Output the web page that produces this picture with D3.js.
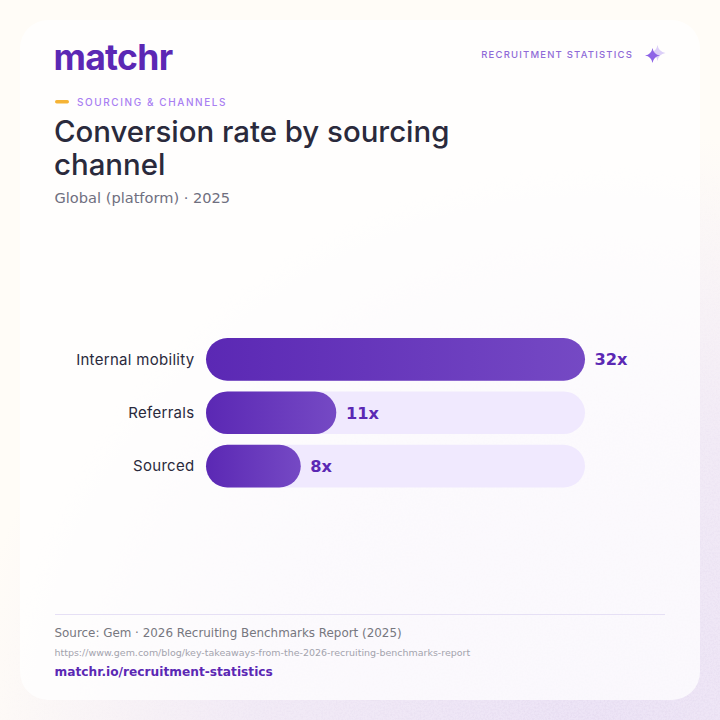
<!DOCTYPE html>
<html>
<head>
<meta charset="utf-8">
<script src="https://cdn.jsdelivr.net/npm/d3@7"></script>
<style>
html,body{margin:0;padding:0;background:#fff;}
svg{display:block;}
</style>
</head>
<body>
<div id="chart"></div>
<script>
const categories = ["Internal mobility", "Referrals", "Sourced"];
const values = [32, 11, 8];
const valueLabels = ["32x", "11x", "8x"];
const domainMax = 32;

const W = 720, H = 720;
const svg = d3.select("#chart").append("svg").attr("width", W).attr("height", H);
const defs = svg.append("defs");

// Page wash: warm cream everywhere, with a lavender glow rising from the lower right
const pageGlow = defs.append("radialGradient").attr("id", "glow")
  .attr("gradientUnits", "userSpaceOnUse")
  .attr("cx", 600).attr("cy", 770).attr("r", 640);
pageGlow.append("stop").attr("offset", "0%").attr("stop-color", "#ece3f6");
pageGlow.append("stop").attr("offset", "55%").attr("stop-color", "#f2ebf6");
pageGlow.append("stop").attr("offset", "100%").attr("stop-color", "#fffcf7");

// Fine paper texture, strongest where the glow is
const grain = defs.append("filter").attr("id", "grain")
  .attr("x", 0).attr("y", 0).attr("width", 1).attr("height", 1);
grain.append("feTurbulence").attr("type", "fractalNoise")
  .attr("baseFrequency", 0.55).attr("numOctaves", 2).attr("seed", 7);
grain.append("feColorMatrix").attr("type", "matrix")
  .attr("values", "0 0 0 0 0.45  0 0 0 0 0.35  0 0 0 0 0.6  0 0 0 1.6 -0.62");
const grainFade = defs.append("radialGradient").attr("id", "grainFade")
  .attr("gradientUnits", "userSpaceOnUse")
  .attr("cx", 600).attr("cy", 770).attr("r", 620);
grainFade.append("stop").attr("offset", "0%").attr("stop-color", "#fff").attr("stop-opacity", 1);
grainFade.append("stop").attr("offset", "100%").attr("stop-color", "#fff").attr("stop-opacity", 0);
defs.append("mask").attr("id", "grainMask").append("rect")
  .attr("width", W).attr("height", H).attr("fill", "url(#grainFade)");

const barGrad = defs.append("linearGradient").attr("id", "bar")
  .attr("x1", 0).attr("y1", 0).attr("x2", 1).attr("y2", 0);
barGrad.append("stop").attr("offset", "0%").attr("stop-color", "#5b28b4");
barGrad.append("stop").attr("offset", "100%").attr("stop-color", "#7549c4");

svg.append("rect").attr("width", W).attr("height", H).attr("fill", "url(#glow)");
svg.append("g").attr("mask", "url(#grainMask)").append("rect")
  .attr("width", W).attr("height", H).attr("filter", "url(#grain)").attr("opacity", 0.16);
svg.append("rect").attr("x", 20).attr("y", 20).attr("width", 680).attr("height", 680)
  .attr("rx", 28).attr("fill", "#ffffff").attr("fill-opacity", 0.74);

const HEAD = "Inter, 'Noto Sans', sans-serif";
const BODY = "'DejaVu Sans', sans-serif";

function label(x, y, str, size, fill, opts = {}) {
  return svg.append("text").attr("x", x).attr("y", y).text(str)
    .attr("font-family", opts.family || BODY)
    .attr("font-size", size)
    .attr("font-weight", opts.weight || 400)
    .attr("letter-spacing", opts.spacing || 0)
    .attr("text-anchor", opts.anchor || "start")
    .attr("fill", fill);
}

// Header
label(53.5, 70, "matchr", 35.5, "#5b28b4", {family: HEAD, weight: 700, spacing: -0.7});
label(633, 57.5, "RECRUITMENT STATISTICS", 9.5, "#8f6bd8", {family: HEAD, weight: 500, spacing: 1.2, anchor: "end"});

// Pair of four-point sparkles beside the header tag
const sparkle = (cx, cy, r) => {
  const k = r * 0.14;
  return `M${cx},${cy - r}Q${cx + k},${cy - k} ${cx + r},${cy}Q${cx + k},${cy + k} ${cx},${cy + r}Q${cx - k},${cy + k} ${cx - r},${cy}Q${cx - k},${cy - k} ${cx},${cy - r}Z`;
};
svg.append("path").attr("d", sparkle(657.5, 53, 8)).attr("fill", "#dccff8");
svg.append("path").attr("d", sparkle(652.5, 55.5, 7.5)).attr("fill", "#8d63e6");

// Eyebrow and titles
svg.append("rect").attr("x", 55).attr("y", 100).attr("width", 14).attr("height", 3.4)
  .attr("rx", 1.7).attr("fill", "#f5b335");
label(77, 106, "SOURCING & CHANNELS", 10, "#a97ff2", {family: HEAD, weight: 500, spacing: 1.58});
label(54, 142, "Conversion rate by sourcing", 29.4, "#2a2a3c", {family: HEAD, weight: 500});
label(54, 175, "channel", 29.4, "#2a2a3c", {family: HEAD, weight: 500});
label(54.5, 203, "Global (platform) · 2025", 14.6, "#6f6f7f");

// Bars
const x = d3.scaleLinear().domain([0, domainMax]).range([206, 585]);
const y = d3.scaleBand().domain(categories).range([338, 487.5]).paddingInner(0.2);
const rows = categories.map((c, i) => ({c, v: values[i], t: valueLabels[i]}));

const row = svg.selectAll("g.row").data(rows).join("g").attr("class", "row");
row.append("rect")
  .attr("x", x(0)).attr("y", d => y(d.c))
  .attr("width", x(domainMax) - x(0)).attr("height", y.bandwidth())
  .attr("rx", y.bandwidth() / 2).attr("fill", "#f0e9fe");
row.append("rect")
  .attr("x", x(0)).attr("y", d => y(d.c))
  .attr("width", d => x(d.v) - x(0)).attr("height", y.bandwidth())
  .attr("rx", y.bandwidth() / 2).attr("fill", "url(#bar)");
row.append("text")
  .attr("x", x(0) - 11.5).attr("y", d => y(d.c) + y.bandwidth() / 2 + 5.2)
  .attr("text-anchor", "end")
  .attr("font-family", HEAD).attr("font-size", 15).attr("font-weight", 400)
  .attr("letter-spacing", 0.3)
  .attr("fill", "#2a2a3c").text(d => d.c);
row.append("text")
  .attr("x", d => x(d.v) + 9.6).attr("y", d => y(d.c) + y.bandwidth() / 2 + 6)
  .attr("font-family", BODY).attr("font-size", 16.2).attr("font-weight", 700)
  .attr("fill", "#5b28b4").text(d => d.t);

// Footer
svg.append("line").attr("x1", 55).attr("x2", 665).attr("y1", 614.5).attr("y2", 614.5)
  .attr("stroke", "#e6e0f5").attr("stroke-width", 1);
label(54.5, 637, "Source: Gem · 2026 Recruiting Benchmarks Report (2025)", 11.92, "#77777f");
label(54.5, 656, "https://www.gem.com/blog/key-takeaways-from-the-2026-recruiting-benchmarks-report", 9.48, "#a3a3ad");
label(54.5, 675.5, "matchr.io/recruitment-statistics", 12.2, "#5b28b4", {weight: 700});
</script>
</body>
</html>
